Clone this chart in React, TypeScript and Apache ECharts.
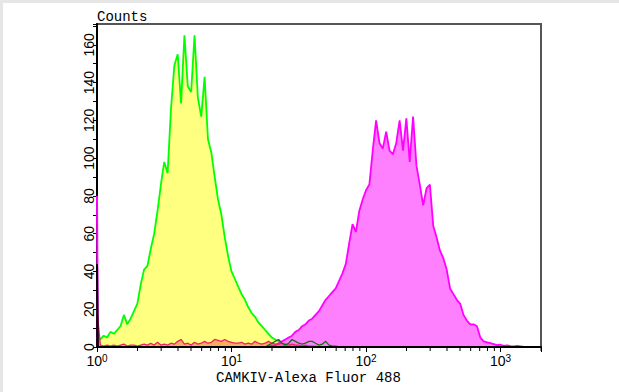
import React, { useEffect, useRef } from "react";
import * as echarts from "echarts";

// Histogram bins: bin i sits at fluorescence 10^(i * LOG_STEP)
const LOG_STEP = 0.025;

// Control (yellow fill, green outline), bins 0..60
const yellowCounts = [
  5, 4, 6, 5, 8, 7, 9, 11, 17, 12, 15, 19, 23, 33, 41, 43, 52, 60, 72, 86,
  98, 92, 126, 149, 155, 129, 165, 138, 135, 165, 132, 122, 143, 110, 103, 90, 78, 70, 58, 48,
  40, 36, 32, 28, 25, 21, 18, 16, 13, 11, 9, 7, 5, 4, 3, 2, 1.5, 1, 0.5, 0.3,
  0,
];

// Sample (magenta), starts at bin 51
const magentaStartBin = 51;
const magentaCounts = [
  0.5, 0.8, 1, 2, 3, 4, 5, 6, 8, 9, 11, 12, 14, 15, 17, 19, 22, 25, 27, 29,
  31, 35, 39, 44, 55, 65, 61, 72, 78, 83, 86, 104, 120, 108, 105, 114, 104, 102, 108, 120,
  104, 121, 98, 122, 96, 86, 75, 84, 86, 64, 58, 51, 47, 41, 31, 28, 25, 23, 17, 14,
  12, 12, 11, 5, 3, 2.5, 2, 1.5, 1, 1.2, 0.6, 0.8, 0.5, 0.3, 0.6, 0.3, 0,
];

// Red low-level series, starts at bin 0
const redCounts = [
  20, 1, 0.5, 1, 0.5, 1, 0.5, 1, 1.5, 0.5, 1, 1, 0.5, 1, 1.5, 1, 2, 1, 2.5, 1,
  1.5, 1, 2, 1.5, 3, 4, 1.5, 2, 1, 2.5, 1.5, 2, 3, 2, 2.5, 4, 3.5, 3, 4, 3,
  2.5, 2, 2, 2.5, 1.5, 2, 1.5, 3, 2, 1.5, 2, 3, 2, 1.5, 1.5, 2, 1.5, 1, 1.5, 1,
  1, 0.5, 1, 0.5, 0.5, 0.3, 0,
];

// Dark green low-level line, starts at bin 50
const darkGreenStartBin = 50;
const darkGreenCounts = [
  0, 1, 2, 3, 4, 2, 1, 2, 4, 3, 2, 1.5, 2, 3, 3, 2, 1, 1.5, 3, 1, 0.5, 0.5, 0,
];

// Spikes at the very first channel (x = 10^0)
const spikeX = [1, 1.015];
const magentaSpike = [80, 0];
const blackSpike = [44, 0];

// Minor tick positions on the log axis
const minorTickValues = [
  2, 3, 4, 5, 6, 7, 8, 9, 20, 30, 40, 50, 60, 70, 80, 90,
  200, 300, 400, 500, 600, 700, 800, 900, 2000,
];

const X_MIN = 1;
const X_MAX = 2000;
const Y_MAX = 171;

const toXY = (start: number, counts: number[]) =>
  counts.map((c, k) => [Math.pow(10, (start + k) * LOG_STEP), c]);

const App: React.FC = () => {
  const ref = useRef<HTMLDivElement>(null);

  useEffect(() => {
    if (!ref.current) return;
    const chart = echarts.init(ref.current, null, { renderer: "svg" });

    const monoFont = "'Liberation Mono', monospace";
    const sansFont = "'Liberation Sans', Arial, sans-serif";

    chart.setOption({
      animation: false,
      backgroundColor: "#fff",
      grid: {
        left: 97,
        right: 78,
        top: 24,
        bottom: 45,
        show: true,
        borderColor: "#555",
        borderWidth: 2,
        backgroundColor: "transparent",
      },
      xAxis: {
        type: "log",
        logBase: 10,
        min: X_MIN,
        max: X_MAX,
        z: 10,
        axisLine: { show: true, lineStyle: { color: "#000", width: 2 } },
        axisTick: { show: true, length: 5, lineStyle: { color: "#000", width: 1 } },
        splitLine: { show: false },
        axisLabel: {
          margin: 6,
          formatter: (v: number) => {
            const e = Math.log10(v);
            const r = Math.round(e);
            if (Math.abs(e - r) > 0.01) return "";
            return `{b|10}{s|${r}}`;
          },
          rich: {
            b: { fontSize: 14, fontFamily: sansFont, color: "#000", lineHeight: 16 },
            s: { fontSize: 10, fontFamily: sansFont, color: "#000", verticalAlign: "top", lineHeight: 10 },
          },
        },
      },
      yAxis: {
        type: "value",
        min: 0,
        max: Y_MAX,
        interval: 10,
        axisLine: { show: true, lineStyle: { color: "#000", width: 2 } },
        axisTick: { show: true, length: 4, lineStyle: { color: "#000", width: 1 } },
        splitLine: { show: false },
        axisLabel: {
          rotate: 90,
          margin: 1,
          fontSize: 14,
          fontFamily: sansFont,
          color: "#000",
          formatter: (v: number) => (v % 20 === 0 && v <= 160 ? String(v) : ""),
        },
      },
      series: [
        {
          type: "line",
          data: toXY(0, yellowCounts),
          showSymbol: false,
          lineStyle: { color: "#00ff00", width: 1.8 },
          areaStyle: { color: "#ffff80", opacity: 1 },
          z: 2,
        },
        {
          type: "line",
          data: toXY(magentaStartBin, magentaCounts),
          showSymbol: false,
          lineStyle: { color: "#ff00ff", width: 1.8 },
          areaStyle: { color: "#ff80ff", opacity: 1 },
          z: 3,
        },
        {
          type: "line",
          data: spikeX.map((x, k) => [x, magentaSpike[k]]),
          showSymbol: false,
          lineStyle: { color: "#ff00ff", width: 2 },
          areaStyle: { color: "#ff80ff", opacity: 1 },
          z: 3,
        },
        {
          type: "line",
          data: toXY(0, redCounts),
          showSymbol: false,
          lineStyle: { color: "#ee2266", width: 1.3 },
          areaStyle: { color: "rgba(240,60,60,0.6)" },
          z: 4,
        },
        {
          type: "line",
          data: toXY(darkGreenStartBin, darkGreenCounts),
          showSymbol: false,
          lineStyle: { color: "#1a6a1a", width: 1.3 },
          z: 5,
        },
        {
          type: "line",
          data: spikeX.map((x, k) => [x, blackSpike[k]]),
          showSymbol: false,
          lineStyle: { color: "#000", width: 2 },
          z: 6,
        },
        {
          type: "custom",
          clip: false,
          z: 11,
          data: minorTickValues.map((v) => [v, 0]),
          renderItem: (_params: any, api: any) => {
            const p = api.coord([api.value(0), 0]);
            return {
              type: "line",
              shape: { x1: p[0], y1: p[1] + 1, x2: p[0], y2: p[1] + 4 },
              style: { stroke: "#000", lineWidth: 1 },
            };
          },
        },
      ],
      graphic: [
        { type: "rect", left: 0, top: 0, shape: { width: 619, height: 3 }, style: { fill: "#e6e6e6" }, silent: true },
        { type: "rect", left: 0, top: 0, shape: { width: 3, height: 392 }, style: { fill: "#e6e6e6" }, silent: true },
        {
          type: "text",
          x: 97,
          y: 17,
          style: { text: "Counts", fontSize: 14, fontFamily: monoFont, fill: "#000", verticalAlign: "middle" },
        },
        {
          type: "text",
          x: 216,
          y: 378,
          style: {
            text: "CAMKIV-Alexa Fluor 488",
            fontSize: 14,
            fontFamily: monoFont,
            fill: "#000",
            verticalAlign: "middle",
          },
        },
      ],
    });

    return () => chart.dispose();
  }, []);

  return (
    <div
      ref={ref}
      style={{ position: "fixed", left: 0, top: 0, width: 619, height: 392, background: "#fff" }}
    />
  );
};

export default App;
